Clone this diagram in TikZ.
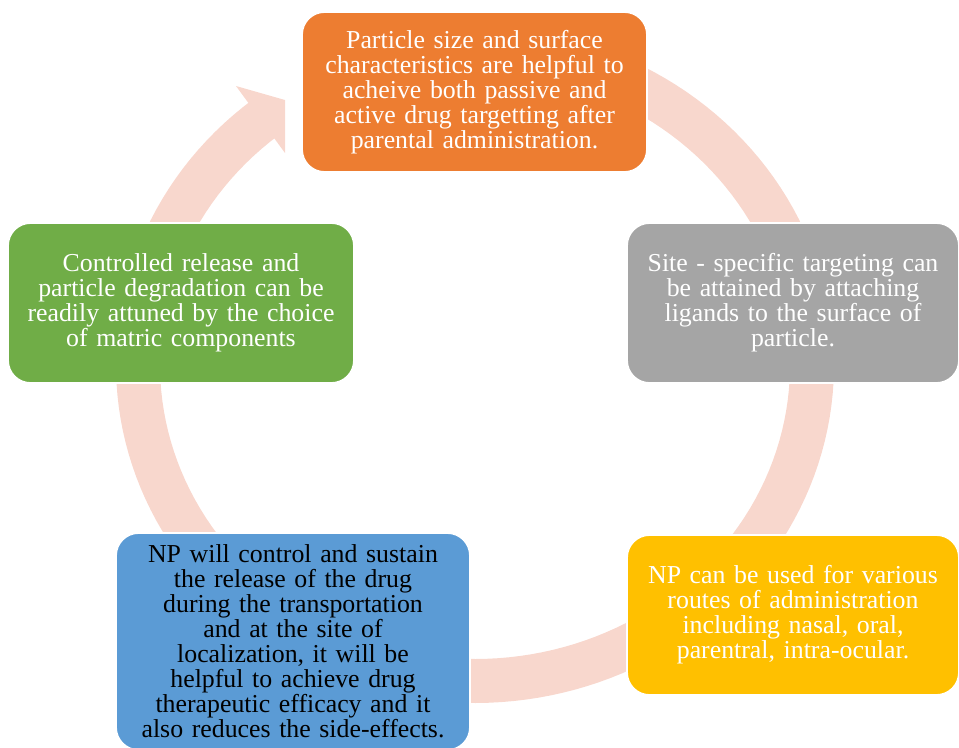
\documentclass[tikz,border=0pt]{standalone}
\usepackage{fontspec}
\setmainfont{Liberation Serif}
\definecolor{boxorange}{RGB}{237,125,49}
\definecolor{boxgray}{RGB}{165,165,165}
\definecolor{boxyellow}{RGB}{255,192,0}
\definecolor{boxblue}{RGB}{91,155,213}
\definecolor{boxgreen}{RGB}{112,173,71}
\definecolor{ringpink}{RGB}{248,215,205}

\begin{document}
\begin{tikzpicture}[x=0.02cm, y=-0.02cm, % 1 个单位 = 1 像素，y 轴向下
  box/.style={rounded corners=0.45cm, draw=white, line width=1pt, text=white,
    align=center, inner sep=0pt, minimum height=3.2cm,
    font=\fontsize{14.7pt}{14.2pt}\selectfont},
  ring/.style={draw=ringpink, line width=0.88cm}]
  \useasboundingbox (0,0) rectangle (959,747); % 固定画布大小

  % 环形箭头：椭圆中心 (475,365)，半轴 337 与 316
  \draw[ring] plot[domain=-231.6:70, samples=150] ({475+337*cos(\x)}, {365-316*sin(\x)});
  \fill[ringpink] (236,86) -- (285,100) -- (285,153) -- cycle; % 箭头头部

  % 五个圆角方框，顺时针排列
  \node[box, fill=boxorange, minimum width=6.9cm, text width=6.7cm] (size) at (474.5,92)
    {Particle size and surface\\characteristics are helpful to\\acheive both passive and\\active drug targetting after\\parental administration.};
  \node[box, fill=boxgray, minimum width=6.64cm, text width=6.4cm] (site) at (793,303)
    {Site - specific targeting can\\be attained by attaching\\ligands to the surface of\\particle.};
  \node[box, fill=boxyellow, minimum width=6.64cm, text width=6.4cm] (route) at (793,615)
    {NP can be used for various\\routes of administration\\including nasal, oral,\\parentral, intra-ocular.};
  \node[box, fill=boxblue, text=black, minimum width=7.08cm, minimum height=4.34cm, text width=6.9cm] (control) at (293,641.5)
    {NP will control and sustain\\the release of the drug\\during the transportation\\and at the site of\\localization, it will be\\helpful to achieve drug\\therapeutic efficacy and it\\also reduces the side-effects.};
  \node[box, fill=boxgreen, minimum width=6.92cm, text width=6.7cm] (release) at (181,303)
    {Controlled release and\\particle degradation can be\\readily attuned by the choice\\of matric components};
\end{tikzpicture}
\end{document}
